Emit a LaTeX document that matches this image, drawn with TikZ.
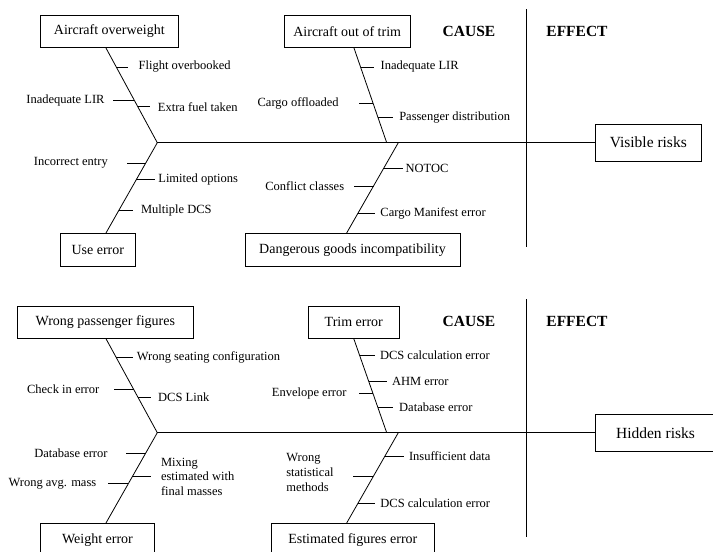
\documentclass[tikz,border=0pt]{standalone}
\usepackage{fontspec}
\setmainfont{Liberation Serif}
\usetikzlibrary{positioning,calc}
\tikzset{
  box/.style={draw, line width=0.8pt, minimum height=32.7pt, inner sep=0pt,
    font=\fontsize{14}{16}\selectfont},
  riskbox/.style={box, minimum height=36.5pt, font=\fontsize{15.5}{18}\selectfont},
  lab/.style={inner sep=0pt, align=left, font=\fontsize{12.5}{14.6}\selectfont},
  head/.style={font=\fontsize{15.5}{18}\selectfont\bfseries},
  bone/.style={line width=0.8pt}
}
\begin{document}
\begin{tikzpicture}[x=1pt,y=-1pt]
\useasboundingbox (0,0) rectangle (713,552);
\clip (0,0) rectangle (713,552);
% Visible risks
\node[box,minimum width=137.3pt] (ow) at (109.3,31.3) {Aircraft overweight};
\node[box,minimum width=125.7pt] (ot) at (347.2,31.3) {Aircraft out of trim};
\node[box,minimum width=75.7pt] (ue) at (97.8,249.7) {Use error};
\node[box,minimum width=215pt,minimum height=33.4pt] (dg) at (352.5,250) {Dangerous goods incompatibility};
\node[riskbox,minimum width=106.7pt] (vr) at (648.3,142.7) {Visible risks};
\node[head] (c1) at (469,31.7) {CAUSE};
\node[head] (e1) at (577,31.7) {EFFECT};
\coordinate (j1) at (157.3,142.7);
\coordinate (j2) at (386.7,142.7);
\coordinate (j3) at (398.3,142.7);
\coordinate (owb) at ([xshift=-3.3pt]ow.south);
\coordinate (otb) at ([xshift=6.8pt]ot.south);
\coordinate (ueb) at ([xshift=8.2pt]ue.north);
\coordinate (dgb) at ([xshift=-5.8pt]dg.north);
\coordinate (d1) at (526,9.3);
\coordinate (d2) at (526,246.7);
\draw[bone] (j1) -- (vr);
\draw[bone] (d1) -- (d2);
\draw[bone] (owb) -- (j1) -- (ueb);
\draw[bone] (otb) -- (j2);
\draw[bone] (j3) -- (dgb);
\draw[bone] ($(owb)!.2!(j1)$) -- ++(12,0) node[lab,right=10pt] (fo) {Flight overbooked};
\draw[bone] ($(owb)!.55!(j1)$) -- ++(-21,0) node[lab,left=8.3pt] (il1) {Inadequate LIR};
\draw[bone] ($(owb)!.62!(j1)$) -- ++(12,0) node[lab,right=7.7pt] (xf) {Extra fuel taken};
\draw[bone] ($(j1)!.227!(ueb)$) -- ++(-19,0) node[lab,left=18.4pt] (ie) {Incorrect entry};
\draw[bone] ($(j1)!.41!(ueb)$) -- ++(19,0) node[lab,right=2.7pt] (lo) {Limited options};
\draw[bone] ($(j1)!.75!(ueb)$) -- ++(14.5,0) node[lab,right=7.4pt] (md) {Multiple DCS};
\draw[bone] ($(otb)!.2!(j2)$) -- ++(13,0) node[lab,right=6.7pt] (il2) {Inadequate LIR};
\draw[bone] ($(otb)!.585!(j2)$) -- ++(-14,0) node[lab,left=20pt] (co) {Cargo offloaded};
\draw[bone] ($(otb)!.73!(j2)$) -- ++(15,0) node[lab,right=6pt] (pd) {Passenger distribution};
\draw[bone] ($(j3)!.28!(dgb)$) -- ++(19.6,0) node[lab,right=1.7pt] (nt) {NOTOC};
\draw[bone] ($(j3)!.48!(dgb)$) -- ++(-20,0) node[lab,left=9pt] (cc) {Conflict classes};
\draw[bone] ($(j3)!.78!(dgb)$) -- ++(17,0) node[lab,right=5pt] (cm) {Cargo Manifest error};
% Hidden risks
\node[box,minimum width=176pt,minimum height=32.3pt] (wp) at (105.3,322.2) {Wrong passenger figures};
\node[box,minimum width=91pt,minimum height=32.3pt] (te) at (353.8,322.2) {Trim error};
\node[box,minimum width=113.6pt] (we) at (97.5,539.7) {Weight error};
\node[box,minimum width=162.3pt] (ef) at (352.8,539.7) {Estimated figures error};
\node[riskbox,minimum width=121pt] (hr) at (655.5,432.7) {Hidden risks};
\node[head] (c2) at (469,321.7) {CAUSE};
\node[head] (e2) at (577,321.7) {EFFECT};
\coordinate (j4) at (157.3,432.7);
\coordinate (j5) at (386.7,432.7);
\coordinate (j6) at (398.3,432.7);
\coordinate (wpb) at ([xshift=0.7pt]wp.south);
\coordinate (teb) at (te.south);
\coordinate (web) at ([xshift=8.5pt]we.north);
\coordinate (efb) at ([xshift=-6.1pt]ef.north);
\coordinate (d3) at (526,299.3);
\coordinate (d4) at (526,536.7);
\draw[bone] (j4) -- (hr);
\draw[bone] (d3) -- (d4);
\draw[bone] (wpb) -- (j4) -- (web);
\draw[bone] (teb) -- (j5);
\draw[bone] (j6) -- (efb);
\draw[bone] ($(wpb)!.195!(j4)$) -- ++(17,0) node[lab,right=3.4pt] (ws) {Wrong seating configuration};
\draw[bone] ($(wpb)!.54!(j4)$) -- ++(-20,0) node[lab,left=14pt] (ci) {Check in error};
\draw[bone] ($(wpb)!.62!(j4)$) -- ++(13,0) node[lab,right=7pt] (dl) {DCS Link};
\draw[bone] ($(j4)!.227!(web)$) -- ++(-20,0) node[lab,left=17.7pt] (db1) {Database error};
\draw[bone] ($(j4)!.486!(web)$) -- ++(19,0) node[lab,right=9.3pt] (mx) {Mixing\\estimated with\\final masses};
\draw[bone] ($(j4)!.566!(web)$) -- ++(-20,0) node[lab,left=11.6pt] (wa) {Wrong avg. mass};
\draw[bone] ($(teb)!.177!(j5)$) -- ++(15,0) node[lab,right=5pt] (dc1) {DCS calculation error};
\draw[bone] ($(teb)!.45!(j5)$) -- ++(18,0) node[lab,right=5pt] (ah) {AHM error};
\draw[bone] ($(teb)!.58!(j5)$) -- ++(-14,0) node[lab,left=12pt] (ee) {Envelope error};
\draw[bone] ($(teb)!.73!(j5)$) -- ++(15,0) node[lab,right=6pt] (db2) {Database error};
\draw[bone] ($(j6)!.265!(efb)$) -- ++(19,0) node[lab,right=5pt] (id) {Insufficient data};
\draw[bone] ($(j6)!.486!(efb)$) -- ++(-20,0) node[lab,left=19.3pt,yshift=4pt] (wm) {Wrong\\statistical\\methods};
\draw[bone] ($(j6)!.78!(efb)$) -- ++(17,0) node[lab,right=5pt] (dc2) {DCS calculation error};
\end{tikzpicture}
\end{document}
